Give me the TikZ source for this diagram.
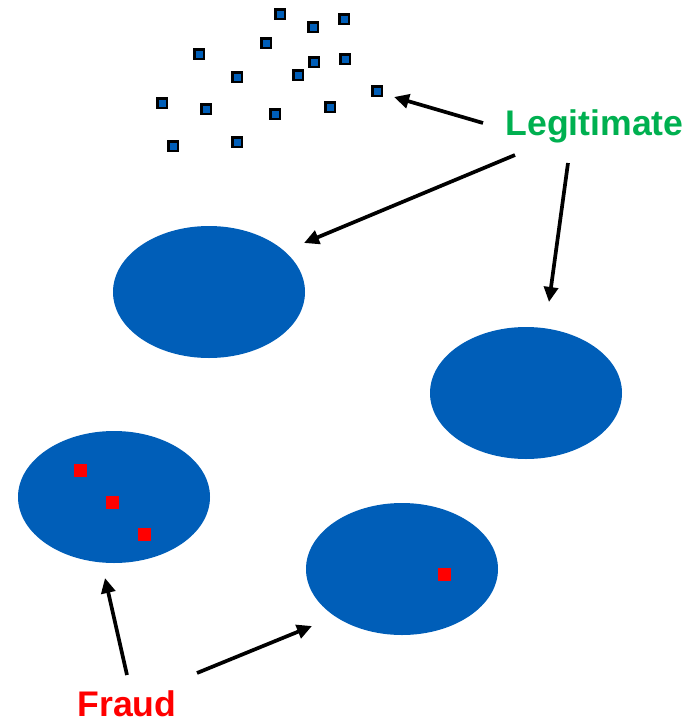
\documentclass[tikz,border=0pt]{standalone}
\usepackage{fontspec}
\setmainfont{Liberation Sans}
\usetikzlibrary{arrows.meta,shapes.geometric}
\definecolor{cblue}{RGB}{0,94,184}
\definecolor{lgreen}{RGB}{0,176,80}
\definecolor{fred}{RGB}{255,0,0}
\begin{document}
\begin{tikzpicture}[x=1pt,y=-1pt,
  cluster/.style={ellipse,fill=cblue,minimum width=192pt,minimum height=132pt,inner sep=0pt},
  point/.style={rectangle,fill=cblue,draw=black,line width=2.5pt,minimum size=9.5pt,inner sep=0pt},
  fraudpt/.style={rectangle,fill=fred,minimum size=13pt,inner sep=0pt},
  lbl/.style={font=\bfseries\fontsize{35.6}{40}\selectfont,inner sep=0pt},
  pointer/.style={line width=3.7pt,-{Triangle[length=15pt,width=14pt]}}]
\useasboundingbox (0,0) rectangle (700,721);
% loose legitimate points
\foreach \px/\py [count=\i] in {280/14,313/27,344/19,266/43,199/54,314/62,345/59,237/77,298/75,377/91,162/103,206/109,275/114,330/107,173/146,237/142}
  \node[point] (p\i) at (\px,\py) {};
% clusters
\node[cluster] (c1) at (209,292) {};
\node[cluster] (c2) at (526,393) {};
\node[cluster] (c3) at (114,497) {};
\node[cluster] (c4) at (402,569) {};
% fraud points inside clusters
\node[fraudpt] (f1) at (80,470) {};
\node[fraudpt] (f2) at (112,502) {};
\node[fraudpt] (f3) at (144,534) {};
\node[fraudpt] (f4) at (444,574) {};
% labels
\node[lbl,text=lgreen,anchor=base] (legit) at (594.5,135) {Legitimate};
\node[lbl,text=fred,anchor=base] (fraud) at (127,716) {Fraud};
% arrow end points
\coordinate (a1s) at (483,123); \coordinate (a1e) at (394,97);
\coordinate (a2s) at (515,155); \coordinate (a2e) at (304,243);
\coordinate (a3s) at (568,163); \coordinate (a3e) at (549,302);
\coordinate (b1s) at (127,675); \coordinate (b1e) at (105,578);
\coordinate (b2s) at (197,673); \coordinate (b2e) at (312,626);
\draw[pointer] (a1s) -- (a1e);
\draw[pointer] (a2s) -- (a2e);
\draw[pointer] (a3s) -- (a3e);
\draw[pointer] (b1s) -- (b1e);
\draw[pointer] (b2s) -- (b2e);
\end{tikzpicture}
\end{document}
